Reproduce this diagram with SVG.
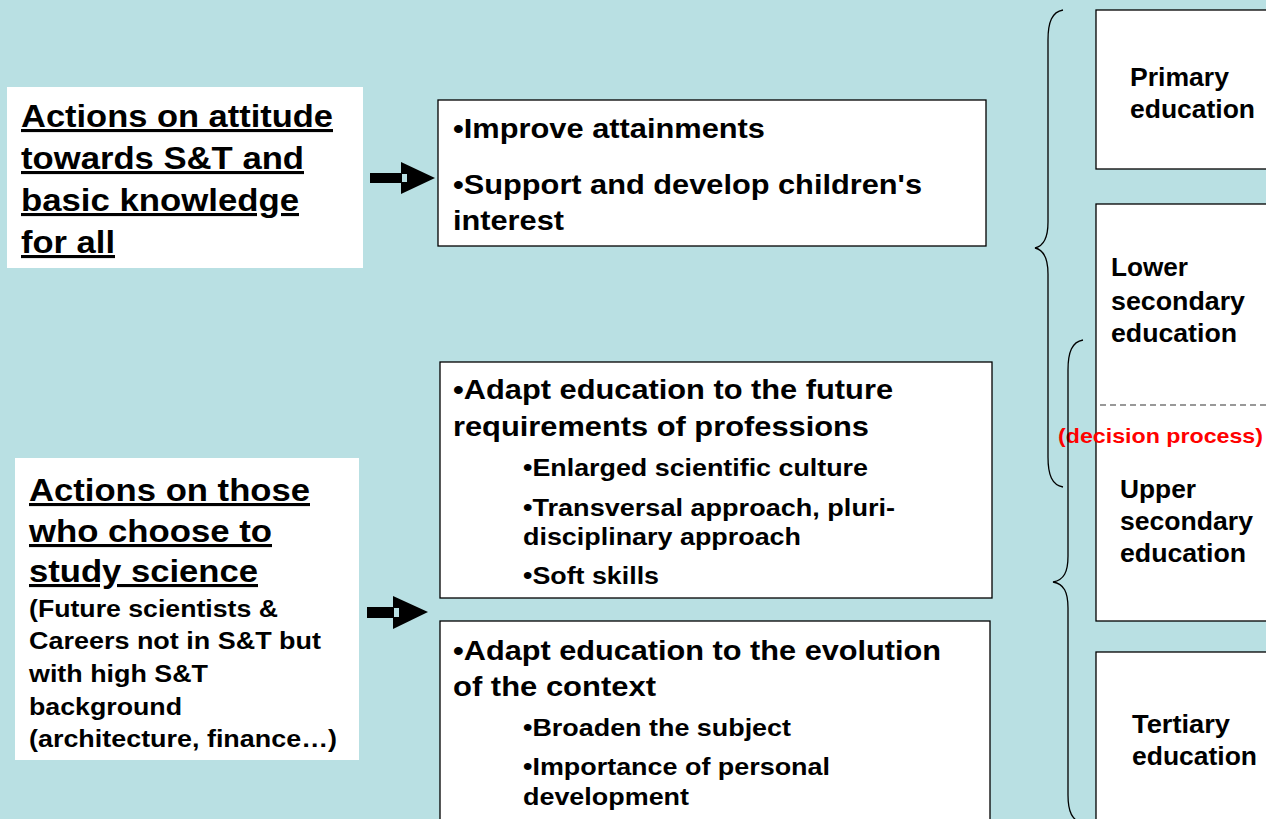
<svg xmlns="http://www.w3.org/2000/svg" width="1266" height="819" viewBox="0 0 1266 819">
<style>
.t{font-family:"Liberation Sans",Arial,sans-serif;font-weight:bold;fill:#000}
.big{font-size:31px;text-decoration:underline}
.mid{font-size:28px}
.sub{font-size:23.5px}
.sm{font-size:23.5px}
.rt{font-size:25px}
.box{fill:#fff;stroke:#000;stroke-width:1.3}
.lbl{fill:#fff}
.brace{fill:none;stroke:#000;stroke-width:1.3}
</style>
<rect width="1266" height="819" fill="#b9e0e3"/>

<g id="left-attitude">
<rect class="lbl" x="7" y="87" width="356" height="181"/>
<text class="t big" x="21" y="127" textLength="312" lengthAdjust="spacingAndGlyphs">Actions on attitude</text>
<text class="t big" x="21" y="169" textLength="283" lengthAdjust="spacingAndGlyphs">towards S&amp;T and</text>
<text class="t big" x="21" y="211" textLength="278" lengthAdjust="spacingAndGlyphs">basic knowledge</text>
<text class="t big" x="21" y="253" textLength="94" lengthAdjust="spacingAndGlyphs">for all</text>
</g>

<g id="left-science">
<rect class="lbl" x="15" y="458" width="344" height="302"/>
<text class="t big" x="29" y="501" textLength="281" lengthAdjust="spacingAndGlyphs">Actions on those</text>
<text class="t big" x="29" y="542" textLength="243" lengthAdjust="spacingAndGlyphs">who choose to</text>
<text class="t big" x="29" y="582" textLength="229" lengthAdjust="spacingAndGlyphs">study science</text>
<text class="t sm" x="29" y="617" textLength="249" lengthAdjust="spacingAndGlyphs">(Future scientists &amp;</text>
<text class="t sm" x="29" y="649" textLength="292" lengthAdjust="spacingAndGlyphs">Careers not in S&amp;T but</text>
<text class="t sm" x="29" y="682" textLength="179" lengthAdjust="spacingAndGlyphs">with high S&amp;T</text>
<text class="t sm" x="29" y="715" textLength="153" lengthAdjust="spacingAndGlyphs">background</text>
<text class="t sm" x="29" y="747" textLength="308" lengthAdjust="spacingAndGlyphs">(architecture, finance…)</text>
</g>

<g id="mid-attainments">
<rect class="box" x="438" y="100" width="548" height="146"/>
<text class="t mid" x="453" y="138" textLength="312" lengthAdjust="spacingAndGlyphs">•Improve attainments</text>
<text class="t mid" x="453" y="194" textLength="469" lengthAdjust="spacingAndGlyphs">•Support and develop children's</text>
<text class="t mid" x="453" y="230" textLength="111" lengthAdjust="spacingAndGlyphs">interest</text>
</g>

<g id="mid-professions">
<rect class="box" x="440" y="362" width="552" height="236"/>
<text class="t mid" x="453" y="399" textLength="440" lengthAdjust="spacingAndGlyphs">•Adapt education to the future</text>
<text class="t mid" x="453" y="436" textLength="416" lengthAdjust="spacingAndGlyphs">requirements of professions</text>
<text class="t sub" x="523" y="476" textLength="345" lengthAdjust="spacingAndGlyphs">•Enlarged scientific culture</text>
<text class="t sub" x="523" y="516" textLength="372" lengthAdjust="spacingAndGlyphs">•Transversal approach, pluri-</text>
<text class="t sub" x="523" y="545" textLength="278" lengthAdjust="spacingAndGlyphs">disciplinary approach</text>
<text class="t sub" x="523" y="584" textLength="136" lengthAdjust="spacingAndGlyphs">•Soft skills</text>
</g>

<g id="mid-context">
<rect class="box" x="440" y="621" width="550" height="210"/>
<text class="t mid" x="453" y="660" textLength="488" lengthAdjust="spacingAndGlyphs">•Adapt education to the evolution</text>
<text class="t mid" x="453" y="696" textLength="203" lengthAdjust="spacingAndGlyphs">of the context</text>
<text class="t sub" x="523" y="736" textLength="268" lengthAdjust="spacingAndGlyphs">•Broaden the subject</text>
<text class="t sub" x="523" y="775" textLength="307" lengthAdjust="spacingAndGlyphs">•Importance of personal</text>
<text class="t sub" x="523" y="805" textLength="166" lengthAdjust="spacingAndGlyphs">development</text>
</g>

<g id="primary">
<rect class="box" x="1096" y="10" width="180" height="159"/>
<text class="t rt" x="1130" y="86" textLength="99" lengthAdjust="spacingAndGlyphs">Primary</text>
<text class="t rt" x="1130" y="118" textLength="125" lengthAdjust="spacingAndGlyphs">education</text>
</g>

<g id="secondary">
<rect class="box" x="1096" y="204" width="180" height="417"/>
<text class="t rt" x="1111" y="276" textLength="77" lengthAdjust="spacingAndGlyphs">Lower</text>
<text class="t rt" x="1111" y="310" textLength="134" lengthAdjust="spacingAndGlyphs">secondary</text>
<text class="t rt" x="1111" y="342" textLength="126" lengthAdjust="spacingAndGlyphs">education</text>
<line x1="1100" y1="405" x2="1266" y2="405" stroke="#333" stroke-width="1.2" stroke-dasharray="6,4"/>
<text class="t rt" x="1120" y="498" textLength="76" lengthAdjust="spacingAndGlyphs">Upper</text>
<text class="t rt" x="1120" y="530" textLength="133" lengthAdjust="spacingAndGlyphs">secondary</text>
<text class="t rt" x="1120" y="562" textLength="126" lengthAdjust="spacingAndGlyphs">education</text>
</g>

<g id="tertiary">
<rect class="box" x="1096" y="652" width="180" height="180"/>
<text class="t rt" x="1132" y="733" textLength="98" lengthAdjust="spacingAndGlyphs">Tertiary</text>
<text class="t rt" x="1132" y="765" textLength="125" lengthAdjust="spacingAndGlyphs">education</text>
</g>

<g id="decision-label">
<text class="t" x="1058" y="443" font-size="21" style="fill:#ff0000" textLength="205" lengthAdjust="spacingAndGlyphs">(decision process)</text>
</g>

<g id="connectors">
<rect x="370" y="173" width="32" height="10" fill="#000"/>
<polygon points="401,162 435,178 401,194" fill="#000"/>
<rect x="402" y="174" width="5" height="8" fill="#b9e0e3"/>
<rect x="367" y="607" width="27" height="11" fill="#000"/>
<polygon points="393,596 428,612 393,629" fill="#000"/>
<rect x="394" y="608" width="5" height="9" fill="#b9e0e3"/>
<path class="brace" d="M1063,10 C1052,12 1048,22 1048,40 L1048,222 C1048,238 1044,246 1035,248 C1044,250 1048,258 1048,274 L1048,457 C1048,475 1052,485 1063,487"/>
<path class="brace" d="M1083,340 C1072,342 1068,352 1068,370 L1068,556 C1068,572 1064,580 1053,582 C1064,584 1068,592 1068,608 L1068,795 C1068,812 1072,820 1083,824"/>
</g>
</svg>
